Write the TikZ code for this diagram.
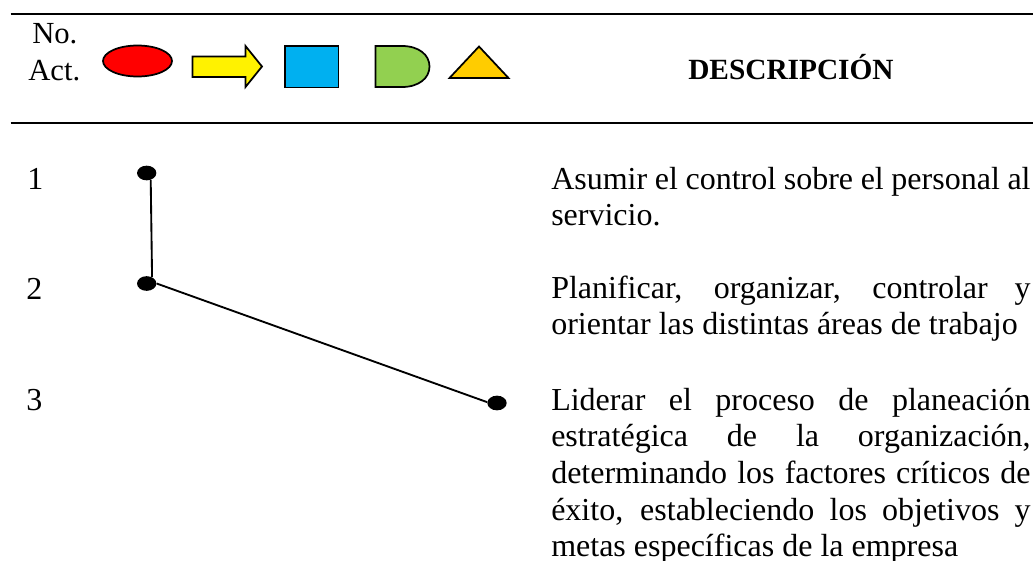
\documentclass[tikz,border=0pt]{standalone}
\usepackage{fontspec}
\setmainfont{Liberation Serif}
\usetikzlibrary{shapes.geometric}
\tikzset{
  rulebar/.style={line width=1.6pt},
  sym/.style={draw=black,line width=1.3pt,line join=miter},
  dotn/.style={draw=none,fill=black,ellipse,minimum width=14.5pt,minimum height=11pt,inner sep=0pt},
  link/.style={line width=1.4pt},
  lab/.style={inner sep=0pt,anchor=base west,font=\fontsize{24}{27.56}\selectfont},
  headlab/.style={inner sep=0pt,anchor=base west,font=\fontsize{23}{27}\selectfont},
  para/.style={inner sep=0pt,anchor=base west,text width=359.5pt,align=justify,font=\fontsize{24}{27.56}\selectfont}
}
\begin{document}
\begin{tikzpicture}[x=0.75pt,y=-0.75pt]
\useasboundingbox (0,0) rectangle (1033,561);
\coordinate (r1a) at (10.7,14); \coordinate (r1b) at (1033,14);
\coordinate (r2a) at (10.7,122.7); \coordinate (r2b) at (1033,122.7);
\draw[rulebar] (r1a) -- (r1b);
\draw[rulebar] (r2a) -- (r2b);
\node[headlab] (no) at (32,43) {No.};
\node[headlab] (act) at (28,80) {Act.};
\draw[sym,fill=red] (137.5,61) ellipse (34.5 and 15.5);
\draw[sym,fill=yellow] (192.5,56.5) -- (245.5,56.5) -- (245.5,46) -- (262,66.5) -- (245.5,87) -- (245.5,77) -- (192.5,77) -- cycle;
\draw[sym,fill={rgb,255:red,0;green,176;blue,240}] (285,46) rectangle (338.5,87.5);
\draw[sym,fill={rgb,255:red,146;green,208;blue,80}] (375.5,46) -- (402,46) .. controls (419,46) and (429.5,55) .. (429.5,66.5) .. controls (429.5,78) and (419,87) .. (402,87) -- (375.5,87) -- cycle;
\draw[sym,fill={rgb,255:red,255;green,204;blue,0}] (449.5,78) -- (479,46.5) -- (508.5,78) -- cycle;
\node[inner sep=0pt,anchor=base west,font=\fontsize{22}{27}\selectfont\bfseries] (desc) at (688,79) {DESCRIPCIÓN};
\node[lab] (n1) at (27,189) {1};
\node[lab] (n2) at (26,299) {2};
\node[lab] (n3) at (26,410) {3};
\node[dotn] (d1) at (146.7,173) {};
\node[dotn] (d2) at (146.7,283.5) {};
\node[dotn] (d3) at (497,403) {};
\draw[link] (d1.300) -- (d2.50);
\draw[link] (d2.0) -- (d3.175);
\node[para] (t1) at (551,189) {Asumir el control sobre el personal al\linebreak servicio.};
\node[para] (t2) at (551,298) {Planificar, organizar, controlar y\linebreak orientar las distintas áreas de trabajo};
\node[para] (t3) at (551,410) {Liderar el proceso de planeación\linebreak estratégica de la organización,\linebreak determinando los factores críticos de\linebreak éxito, estableciendo los objetivos y\linebreak metas específicas de la empresa};
\end{tikzpicture}
\end{document}
